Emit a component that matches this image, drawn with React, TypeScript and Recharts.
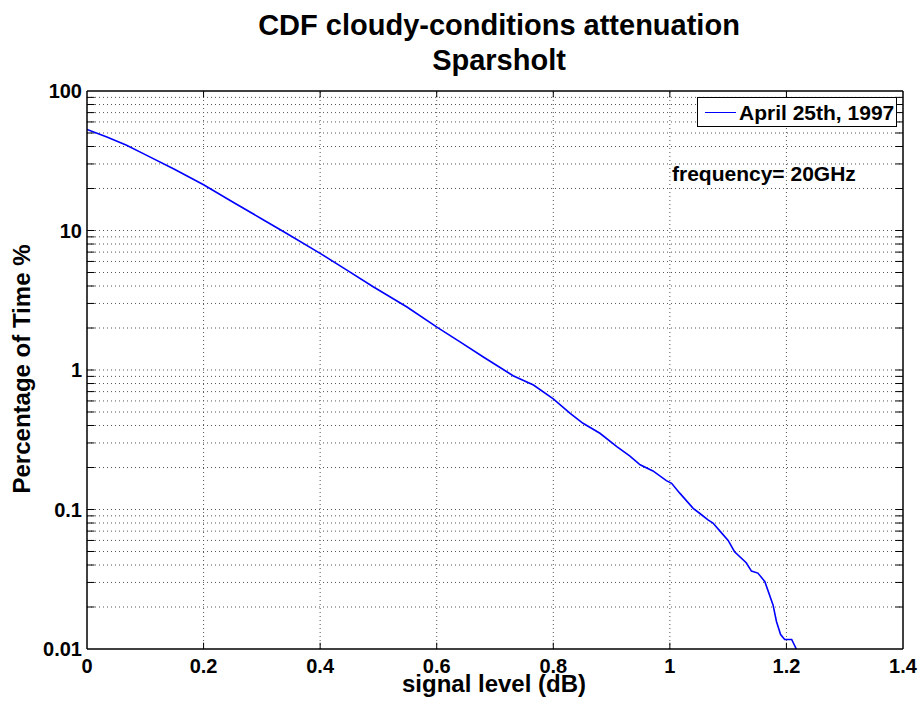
import React from "react";
import { LineChart, Line, XAxis, YAxis, ReferenceLine } from "recharts";

const signalDb = [0, 0.033, 0.067, 0.1, 0.15, 0.2, 0.25, 0.3, 0.342, 0.4, 0.45, 0.491, 0.549, 0.601, 0.64, 0.68, 0.731, 0.766, 0.8, 0.829, 0.851, 0.88, 0.909, 0.931, 0.949, 0.971, 0.994, 1.003, 1.017, 1.04, 1.051, 1.066, 1.074, 1.086, 1.1, 1.111, 1.131, 1.14, 1.151, 1.163, 1.177, 1.183, 1.19, 1.197, 1.209, 1.217];
const percentTime = [53, 47, 41, 35, 27.5, 21.3, 16.0, 12.1, 9.55, 6.86, 5.07, 3.95, 2.83, 2.02, 1.59, 1.24, 0.91, 0.78, 0.62, 0.489, 0.415, 0.352, 0.282, 0.242, 0.209, 0.189, 0.161, 0.154, 0.131, 0.102, 0.094, 0.084, 0.08, 0.07, 0.06, 0.0498, 0.0415, 0.0362, 0.035, 0.0304, 0.0207, 0.0157, 0.0127, 0.0117, 0.0117, 0.01];

const xTicks = [0, 0.2, 0.4, 0.6, 0.8, 1, 1.2, 1.4];
const yTicks = [0.01, 0.1, 1, 10, 100];
const yMinor = [0.02, 0.03, 0.04, 0.05, 0.06, 0.07, 0.08, 0.09, 0.2, 0.3, 0.4, 0.5, 0.6, 0.7, 0.8, 0.9, 2, 3, 4, 5, 6, 7, 8, 9, 20, 30, 40, 50, 60, 70, 80, 90];

const seriesName = "April 25th, 1997";
const titleLines = ["CDF cloudy-conditions attenuation", "Sparsholt"];
const xLabel = "signal level (dB)";
const yLabel = "Percentage of Time %";
const note = "frequency= 20GHz";

const data = signalDb.map((x, i) => ({ x, y: percentTime[i] }));

const FONT = "'Liberation Sans', Arial, Helvetica, sans-serif";
const gridStroke = "#555";
const gridDash = "1 3";

export default function App() {
  const yGridAll = [...yTicks.slice(1, 4), ...yMinor];
  return (
    <div style={{ position: "absolute", left: 0, top: 0, width: 922, height: 708, background: "#fff", fontFamily: FONT, color: "#000", fontWeight: "bold" }}>
      <LineChart width={922} height={708} data={data} margin={{ top: 91, right: 19, bottom: 29, left: 7 }}>
        <XAxis
          dataKey="x"
          type="number"
          domain={[0, 1.4]}
          ticks={xTicks}
          tickFormatter={(v: number) => String(v)}
          allowDataOverflow
          height={30}
          tickLine={false}
          tickSize={10}
          tickMargin={0}
          axisLine={{ stroke: "#000", strokeWidth: 1.5 }}
          tick={{ fill: "#000", fontSize: 20, fontWeight: "bold", fontFamily: FONT }}
        />
        <YAxis
          type="number"
          scale="log"
          domain={[0.01, 100]}
          ticks={yTicks}
          tickFormatter={(v: number) => String(v)}
          allowDataOverflow
          width={80}
          tickLine={false}
          tickSize={5}
          tickMargin={0}
          axisLine={{ stroke: "#000", strokeWidth: 1.5 }}
          tick={{ fill: "#000", fontSize: 20, fontWeight: "bold", fontFamily: FONT }}
        />
        {xTicks.slice(1, 7).map((v) => (
          <ReferenceLine key={"vx" + v} x={v} stroke={gridStroke} strokeDasharray={gridDash} strokeWidth={1} />
        ))}
        {yGridAll.map((v) => (
          <ReferenceLine key={"hy" + v} y={v} stroke={gridStroke} strokeDasharray={gridDash} strokeWidth={1} />
        ))}
        {yGridAll.map((v) => (
          <ReferenceLine key={"tl" + v} segment={[{ x: 0, y: v }, { x: 0.013, y: v }]} stroke="#000" strokeWidth={1} />
        ))}
        {yGridAll.map((v) => (
          <ReferenceLine key={"tr" + v} segment={[{ x: 1.387, y: v }, { x: 1.4, y: v }]} stroke="#000" strokeWidth={1} />
        ))}
        {xTicks.slice(1, 7).map((v) => (
          <ReferenceLine key={"tb" + v} segment={[{ x: v, y: 0.01 }, { x: v, y: 0.0111 }]} stroke="#000" strokeWidth={1} />
        ))}
        {xTicks.slice(1, 7).map((v) => (
          <ReferenceLine key={"tt" + v} segment={[{ x: v, y: 90 }, { x: v, y: 100 }]} stroke="#000" strokeWidth={1} />
        ))}
        <ReferenceLine y={100} stroke="#000" strokeWidth={1.5} />
        <ReferenceLine x={1.4} stroke="#000" strokeWidth={1.5} />
        <Line
          dataKey="y"
          type="linear"
          stroke="#0000ff"
          strokeWidth={1.6}
          dot={false}
          isAnimationActive={false}
        />
      </LineChart>

      <div style={{ position: "absolute", left: 0, width: 998, top: 8, textAlign: "center", fontSize: 29, lineHeight: "35px" }}>
        <div>{titleLines[0]}</div>
        <div>{titleLines[1]}</div>
      </div>

      <div style={{ position: "absolute", left: 0, width: 988, top: 672, textAlign: "center", fontSize: 24, lineHeight: "24px" }}>
        {xLabel}
      </div>

      <div
        style={{
          position: "absolute",
          left: 22,
          top: 369,
          transform: "translate(-50%, -50%) rotate(-90deg)",
          whiteSpace: "nowrap",
          fontSize: 24,
          lineHeight: "24px",
        }}
      >
        {yLabel}
      </div>

      <div
        style={{
          position: "absolute",
          left: 697,
          top: 97,
          width: 200,
          height: 30,
          border: "1.5px solid #000",
          background: "#fff",
          boxSizing: "border-box",
          display: "flex",
          alignItems: "center",
        }}
      >
        <div style={{ width: 31, height: 0, borderTop: "1.5px solid #0000ff", marginLeft: 7, marginRight: 3 }} />
        <span style={{ fontSize: 21, lineHeight: "21px", whiteSpace: "nowrap" }}>{seriesName}</span>
      </div>

      <div style={{ position: "absolute", left: 672, top: 163, fontSize: 21, lineHeight: "21px", whiteSpace: "nowrap" }}>
        {note}
      </div>
    </div>
  );
}
